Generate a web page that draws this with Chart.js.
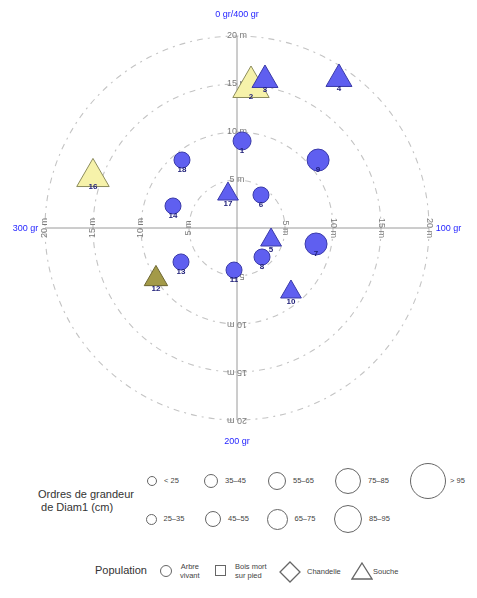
<!DOCTYPE html>
<html><head><meta charset="utf-8">
<script src="https://cdn.jsdelivr.net/npm/chart.js@4/dist/chart.umd.min.js"></script>
<style>
html,body{margin:0;padding:0;background:#fff;}
#wrap{position:relative;width:477px;height:598px;font-family:"Liberation Sans",Arial,sans-serif;overflow:hidden;}
canvas{position:absolute;left:0;top:0;}
.t{position:absolute;white-space:nowrap;color:#333;}
.sm{font-size:7.5px;color:#444;line-height:9px;}
.c{position:absolute;border:1.4px solid #666;border-radius:50%;box-sizing:border-box;background:#fff;}
</style></head>
<body><div id="wrap"><canvas id="c" width="477" height="450"></canvas><div id="leg"></div></div>
<script>
// ---- data ----
const labels   = ['1','2','3','4','5','6','7','8','9','10','11','12','13','14','16','17','18'];
const azimutGr = [3.7, 6.3, 11.9, 38.2, 121.6, 40, 112.7, 154.7, 55.6, 155.4, 204.5, 264.3, 265.3, 321.1, 321.6, 383.5, 356.7];
const distM    = [9.08, 14.76, 15.69, 18.81, 3.76, 4.25, 8.40, 3.99, 11.02, 8.72, 4.39, 9.97, 6.82, 7.05, 15.91, 3.66, 9.11];
const diam1Cm  = [55, 100, 70, 70, 50, 50, 80, 50, 80, 50, 50, 60, 50, 50, 90, 50, 50];
const population = ['Arbre vivant','Souche','Souche','Souche','Souche','Arbre vivant','Arbre vivant','Arbre vivant','Arbre vivant','Souche','Arbre vivant','Souche','Arbre vivant','Arbre vivant','Souche','Souche','Arbre vivant'];
const groupe   = ['A','B','A','A','A','A','A','A','A','A','A','C','A','A','B','A','A'];
const ringsM   = [5, 10, 15, 20];
const directionLabels = ['0 gr/400 gr','100 gr','200 gr','300 gr'];
const diamClasses = ['< 25','25–35','35–45','45–55','55–65','65–75','75–85','85–95','> 95'];
const popLegend = ['Arbre vivant','Bois mort sur pied','Chandelle','Souche'];

// ---- styles ----
const classRadius = [5,6,7,8,9,10,11,12.5,14];
function classIndex(d){ if(d<25) return 0; if(d>95) return 8; return Math.min(8, Math.floor((d-25)/10)+1); }
const fillMap = {A:'#5f5ff0', B:'#f6f2aa', C:'#a39a48'};
const borderMap = {A:'#3a3aa8', B:'#8c8c5c', C:'#6c6530'};
const styleMap = {'Arbre vivant':'circle','Bois mort sur pied':'rect','Chandelle':'rectRot','Souche':'triangle'};

const pts = azimutGr.map((a,i)=>{ const r=a*Math.PI/200; return {x: distM[i]*Math.sin(r), y: distM[i]*Math.cos(r)}; });
const radii = diam1Cm.map((d,i)=> classRadius[classIndex(d)] * (population[i]==='Souche'?1.5:1));

const polarPlugin = {
  id:'polar',
  beforeDatasetsDraw(chart){
    const {ctx, scales:{x,y}} = chart;
    const cx = x.getPixelForValue(0), cy = y.getPixelForValue(0);
    const k = x.getPixelForValue(1)-cx;
    ctx.save();
    ctx.strokeStyle='#c4c4c4'; ctx.lineWidth=1.1; ctx.setLineDash([6,5,2,5]);
    ringsM.forEach(r=>{ ctx.beginPath(); ctx.arc(cx,cy,r*k,0,Math.PI*2); ctx.stroke(); });
    ctx.setLineDash([]);
    const R = ringsM[ringsM.length-1];
    ctx.strokeStyle='#9a9a9a'; ctx.lineWidth=1;
    ctx.beginPath();
    ctx.moveTo(x.getPixelForValue(-R),cy); ctx.lineTo(x.getPixelForValue(R),cy);
    ctx.moveTo(cx,y.getPixelForValue(R)); ctx.lineTo(cx,y.getPixelForValue(-R));
    ctx.stroke();
    ctx.font='9px "Liberation Sans", Arial'; ctx.fillStyle='#7a7a7a';
    ctx.textAlign='center'; ctx.textBaseline='middle';
    [0,1,2,3].forEach(q=>{
      ringsM.forEach(r=>{
        const ang=q*Math.PI/2;
        const px=cx+Math.sin(ang)*r*k, py=cy-Math.cos(ang)*r*k;
        ctx.save(); ctx.translate(px,py); ctx.rotate(ang);
        ctx.fillText(r+' m',0,0); ctx.restore();
      });
    });
    // direction labels
    ctx.fillStyle='#1f1fff'; ctx.font='9px "Liberation Sans", Arial';
    ctx.textAlign='center'; ctx.fillText(directionLabels[0],cx,y.getPixelForValue(R+2.2));
    ctx.fillText(directionLabels[2],cx,y.getPixelForValue(-R-2.2));
    ctx.textAlign='left'; ctx.fillText(directionLabels[1],x.getPixelForValue(R+0.7),cy+1);
    ctx.textAlign='right'; ctx.fillText(directionLabels[3],x.getPixelForValue(-R-0.7),cy+1);
    ctx.restore();
  },
  afterDatasetsDraw(chart){
    const {ctx} = chart;
    const meta = chart.getDatasetMeta(0);
    ctx.save();
    ctx.font='bold 8px "Liberation Sans", Arial'; ctx.fillStyle='#1e1e78';
    ctx.textAlign='center'; ctx.textBaseline='middle';
    meta.data.forEach((el,i)=>{ ctx.fillText(labels[i], el.x, el.y+10); });
    ctx.restore();
  }
};

new Chart(document.getElementById('c'), {
  type:'scatter',
  data:{ datasets:[{
    data: pts,
    pointStyle: population.map(p=>styleMap[p]),
    pointRadius: radii,
    pointHoverRadius: radii,
    backgroundColor: groupe.map(g=>fillMap[g]),
    borderColor: groupe.map(g=>borderMap[g]),
    borderWidth: 1,
    clip: false
  }]},
  options:{
    responsive:false, animation:false,
    layout:{padding:{left:45,right:48,top:36,bottom:30}},
    scales:{
      x:{type:'linear',min:-20,max:20,display:false},
      y:{type:'linear',min:-20,max:20,display:false}
    },
    plugins:{legend:{display:false},tooltip:{enabled:false}}
  },
  plugins:[polarPlugin]
});

// ---- HTML legends ----
const leg = document.getElementById('leg');
function add(html){ leg.insertAdjacentHTML('beforeend', html); }
add('<div class="t" style="left:38px;top:488px;font-size:11px;line-height:13px;">Ordres de grandeur<br>&nbsp;de Diam1 (cm)</div>');
const legR = [5,5.5,7,8,9,10.5,13,14,18];
const legX = [152,151,211,213,277,277,348,348,428];
const legY = [481,519,481,519,481,519,481,519,481];
diamClasses.forEach((c,i)=>{
  const r=legR[i];
  add(`<div class="c" style="left:${legX[i]-r}px;top:${legY[i]-r}px;width:${2*r}px;height:${2*r}px;"></div>`);
  add(`<div class="t sm" style="left:${legX[i]+r+(i===8?4:7)}px;top:${legY[i]-5}px;">${c}</div>`);
});
add('<div class="t" style="left:95px;top:564px;font-size:11px;">Population</div>');
add('<div class="c" style="left:160px;top:565px;width:12px;height:12px;"></div>');
add('<div class="t sm" style="left:180px;top:562px;text-align:center;">Arbre<br>vivant</div>');
add('<div style="position:absolute;left:215px;top:565px;width:11px;height:11px;border:1.4px solid #666;box-sizing:border-box;"></div>');
add('<div class="t sm" style="left:235px;top:562px;">Bois mort<br>sur pied</div>');
add('<svg style="position:absolute;left:279px;top:561px" width="22" height="22"><polygon points="11,1 21,11 11,21 1,11" fill="#fff" stroke="#666" stroke-width="1.3"/></svg>');
add('<div class="t sm" style="left:307px;top:567px;">Chandelle</div>');
add('<svg style="position:absolute;left:351px;top:562px" width="22" height="18"><polygon points="11,1 21,17 1,17" fill="#fff" stroke="#666" stroke-width="1.3"/></svg>');
add('<div class="t sm" style="left:373px;top:567px;">Souche</div>');
</script>
</body></html>
